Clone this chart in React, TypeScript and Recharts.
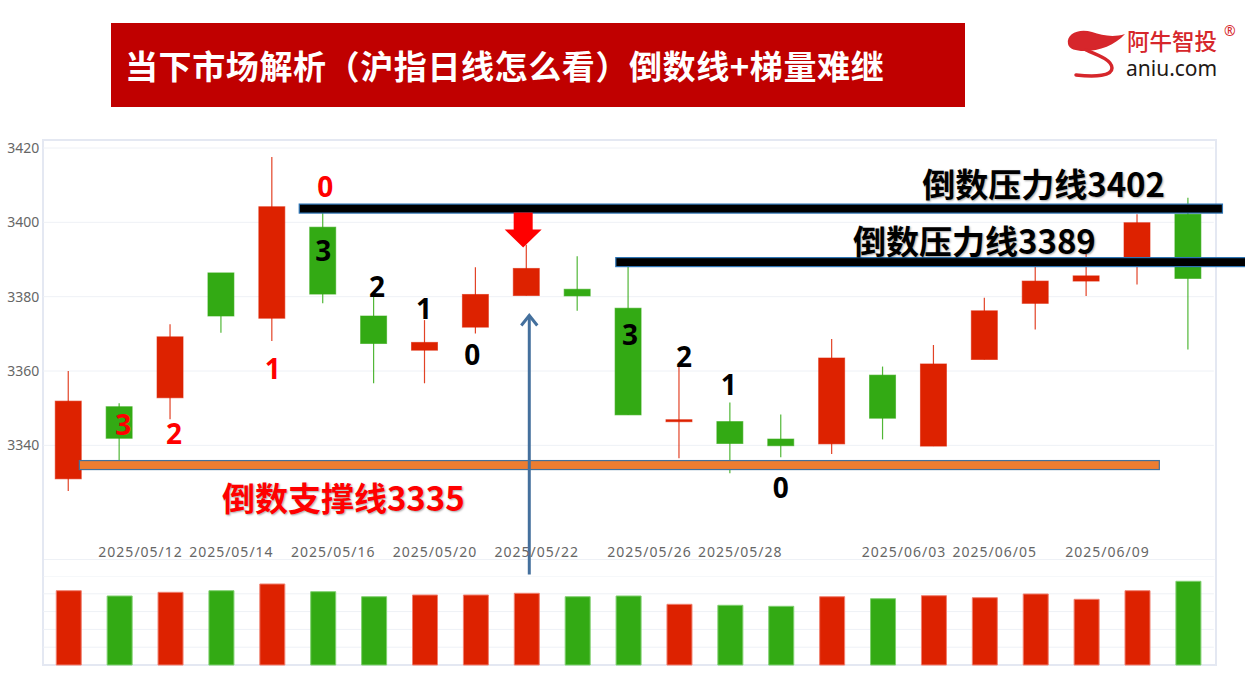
import React from 'react';
import {
  ComposedChart,
  BarChart,
  Bar,
  Cell,
  XAxis,
  YAxis,
  CartesianGrid,
  ReferenceLine,
  ReferenceDot,
} from 'recharts';

// 沪指日线 2025/05/09 - 2025/06/11
const dates = [
  '2025/05/09', '2025/05/12', '2025/05/13', '2025/05/14', '2025/05/15', '2025/05/16',
  '2025/05/19', '2025/05/20', '2025/05/21', '2025/05/22', '2025/05/23', '2025/05/26',
  '2025/05/27', '2025/05/28', '2025/05/29', '2025/05/30', '2025/06/03', '2025/06/04',
  '2025/06/05', '2025/06/06', '2025/06/09', '2025/06/10', '2025/06/11',
];
const opens = [
  3331.0, 3350.4, 3352.8, 3386.4, 3374.2, 3398.7, 3374.8, 3365.6, 3371.8, 3380.3, 3382.0, 3376.9,
  3346.4, 3346.4, 3341.7, 3340.4, 3358.9, 3339.8, 3363.1, 3378.2, 3384.2, 3388.8, 3402.2,
];
const highs = [
  3360.0, 3351.3, 3372.6, 3386.4, 3417.6, 3403.0, 3381.0, 3373.7, 3387.9, 3394.0, 3390.9, 3388.3,
  3361.6, 3351.5, 3348.3, 3368.6, 3361.2, 3367.0, 3379.7, 3388.3, 3391.5, 3402.2, 3406.6,
];
const lows = [
  3327.7, 3334.5, 3347.0, 3370.3, 3368.1, 3378.2, 3356.7, 3356.7, 3370.1, 3380.3, 3376.2, 3348.2,
  3336.5, 3332.5, 3336.8, 3337.7, 3341.6, 3339.8, 3363.1, 3371.2, 3380.2, 3383.3, 3365.8,
];
const closes = [
  3351.9, 3341.9, 3369.2, 3374.8, 3404.2, 3380.7, 3367.4, 3367.7, 3380.6, 3387.6, 3380.2, 3348.2,
  3346.9, 3340.5, 3339.9, 3363.5, 3347.3, 3361.9, 3376.2, 3384.2, 3385.6, 3399.9, 3384.9,
];
const volumes = [
  5009, 4652, 4901, 5009, 5461, 4942, 4604, 4719, 4719, 4834, 4604, 4652,
  4092, 4025, 3957, 4604, 4470, 4672, 4537, 4787, 4429, 5009, 5643,
];
const labeledDates = [
  '2025/05/12', '2025/05/14', '2025/05/16', '2025/05/20', '2025/05/22',
  '2025/05/26', '2025/05/28', '2025/06/03', '2025/06/05', '2025/06/09',
];
const priceTicks = [3340, 3360, 3380, 3400, 3420];
const volumeTicks = [1200, 2400, 3600, 4800, 6000];

// 倒数线 (level, from index, to index)
const levels = [
  { value: 3403.7, from: 4.53, to: 22.67, kind: 'resist' },
  { value: 3389.3, from: 10.75, to: 23.3, kind: 'resist' },
  { value: 3334.7, from: 0.21, to: 21.43, kind: 'support' },
];
const levelTexts = [
  { i: 16.77, v: 3406.9, text: '倒数压力线3402', color: '#000000' },
  { i: 15.41, v: 3391.5, text: '倒数压力线3389', color: '#000000' },
  { i: 3.01, v: 3322.3, text: '倒数支撑线3335', color: '#FF0000' },
];
const countMarks = [
  { i: 1.07, v: 3345.7, text: '3', color: '#FF0000' },
  { i: 2.07, v: 3343.3, text: '2', color: '#FF0000' },
  { i: 4.01, v: 3360.8, text: '1', color: '#FF0000' },
  { i: 5.04, v: 3409.8, text: '0', color: '#FF0000' },
  { i: 5.0, v: 3392.5, text: '3', color: '#000000' },
  { i: 6.06, v: 3382.9, text: '2', color: '#000000' },
  { i: 6.98, v: 3376.9, text: '1', color: '#000000' },
  { i: 7.93, v: 3364.6, text: '0', color: '#000000' },
  { i: 11.03, v: 3369.9, text: '3', color: '#000000' },
  { i: 12.09, v: 3364.0, text: '2', color: '#000000' },
  { i: 12.97, v: 3356.5, text: '1', color: '#000000' },
  { i: 13.99, v: 3328.8, text: '0', color: '#000000' },
];

const RED = '#DD2200';
const GREEN = '#33AA14';
const GRID = '#EEF1F6';
const CJK = '"Noto Sans CJK SC", "Noto Sans", sans-serif';
const SANS = '"Noto Sans", "DejaVu Sans", sans-serif';

const candles = dates.map((d, idx) => ({
  idx,
  date: d,
  open: opens[idx],
  high: highs[idx],
  low: lows[idx],
  close: closes[idx],
  volume: volumes[idx],
  up: closes[idx] >= opens[idx],
}));

const toDay = (s: string) => {
  const [y, m, d] = s.split('/').map(Number);
  return new Date(y, m - 1, d).getTime() / 86400000;
};
const tickIdx = labeledDates.map((d) => dates.indexOf(d));

const Candle = (props: any) => {
  const { x, y, width, height, payload } = props;
  const top = Math.min(y, y + height);
  const h = Math.abs(height);
  const { open, close, high, low, up } = payload;
  const color = up ? RED : GREEN;
  const ppu = h / (high - low);
  const bodyTop = top + (high - Math.max(open, close)) * ppu;
  const bodyH = Math.max(2, Math.abs(open - close) * ppu);
  const cx = x + width / 2;
  return (
    <g>
      <line x1={cx} x2={cx} y1={top} y2={top + h} stroke={color} strokeWidth={1.2} strokeOpacity={0.85} />
      <rect x={x} y={bodyTop} width={width} height={bodyH} fill={color} stroke={color} strokeOpacity={0.6} />
    </g>
  );
};

const DateTick = (props: any) => {
  const { x, y, payload } = props;
  const i = payload.value;
  const gap = i > 0 && toDay(dates[i]) - toDay(dates[i - 1]) > 1;
  return (
    <text
      x={x + (gap ? 21 : 10)}
      y={y + 37}
      textAnchor="middle"
      fontFamily={SANS}
      fontSize={14}
      letterSpacing={1}
      fill="#666"
    >
      {dates[i]}
    </text>
  );
};

const LevelBar = (kind: string) => (p: any) => (
  <rect
    x={p.x1}
    y={p.y1 - 4.5}
    width={p.x2 - p.x1}
    height={9}
    fill={kind === 'support' ? '#ED7D31' : '#000000'}
    stroke={kind === 'support' ? '#41719C' : '#2E75B6'}
    strokeWidth={1.2}
  />
);

// grid lines only at the given values, through the axis scale
const gridAt = (values: number[]) => (args: any) => {
  const scale = args?.yAxis?.scale;
  if (!scale) return [];
  return values.map((t) => (typeof scale === 'function' ? scale(t) : scale.map(t)));
};

const Logo = () => (
  <div style={{ position: 'absolute', left: 1060, top: 20, width: 185, height: 70 }}>
    <svg width={185} height={70} style={{ position: 'absolute', left: 0, top: 0 }}>
      <path
        d="M8,24 C6,13 20,8 32,12 C42,15 52,18 65,14 C55,25 40,31 24,31 C16,31 9,29 8,24 Z"
        fill="#D6262B"
      />
      <path
        d="M26,30 C38,35 52,40 52,48 C52,56 36,57 16,55"
        fill="none"
        stroke="#D6262B"
        strokeWidth={3.5}
        strokeLinecap="round"
      />
    </svg>
    <div
      style={{
        position: 'absolute',
        left: 67,
        top: 8,
        fontFamily: CJK,
        fontSize: 22.5,
        fontWeight: 500,
        color: '#D6262B',
        lineHeight: '24px',
        whiteSpace: 'nowrap',
      }}
    >
      阿牛智投
    </div>
    <div style={{ position: 'absolute', left: 164, top: 3, fontFamily: SANS, fontSize: 14, color: '#D6262B', lineHeight: '16px' }}>®</div>
    <div
      style={{
        position: 'absolute',
        left: 66,
        top: 37,
        fontFamily: SANS,
        fontSize: 21,
        color: '#231815',
        lineHeight: '22px',
      }}
    >
      aniu.com
    </div>
  </div>
);

export default function App() {
  return (
    <div style={{ position: 'absolute', left: 0, top: 0, width: 1245, height: 679, overflow: 'hidden', background: '#fff' }}>
      {/* frame */}
      <div
        style={{
          position: 'absolute',
          left: 42,
          top: 139,
          width: 1175,
          height: 527,
          border: '2px solid #E4E8F2',
          boxSizing: 'border-box',
        }}
      />
      <div style={{ position: 'absolute', left: 44, top: 559, width: 1171, height: 1, background: GRID }} />

      {/* volume */}
      <div style={{ position: 'absolute', left: 0, top: 576 }}>
        <BarChart width={1245} height={103} data={candles} margin={{ top: 0, right: 31.2, bottom: 14, left: 43.25 }}>
          <CartesianGrid vertical={false} stroke={GRID} horizontalCoordinatesGenerator={gridAt(volumeTicks)} />
          <XAxis dataKey="date" hide />
          <YAxis width={0} domain={[0, 6000]} ticks={volumeTicks} tick={false} axisLine={false} tickLine={false} />
          <Bar dataKey="volume" barSize={25} isAnimationActive={false}>
            {candles.map((c) => (
              <Cell key={c.idx} fill={c.up ? RED : GREEN} stroke={c.up ? '#F08070' : '#80D070'} strokeWidth={1} />
            ))}
          </Bar>
        </BarChart>
      </div>

      {/* price */}
      <div style={{ position: 'absolute', left: 0, top: 0 }}>
        <ComposedChart width={1245} height={600} data={candles} margin={{ top: 148, right: 31.2, bottom: 50.3, left: 0 }}>
          <CartesianGrid vertical={false} stroke={GRID} horizontalCoordinatesGenerator={gridAt(priceTicks)} />
          <XAxis
            dataKey="idx"
            type="number"
            domain={[-0.5, 22.5]}
            ticks={tickIdx}
            interval={0}
            tick={<DateTick />}
            axisLine={false}
            tickLine={false}
            tickSize={0}
            tickMargin={0}
            height={30}
          />
          <YAxis
            domain={[3320, 3420]}
            ticks={priceTicks}
            width={43.25}
            axisLine={false}
            tickLine={false}
            tickSize={0}
            tickMargin={4}
            tick={{ fill: '#666', fontSize: 14, fontFamily: SANS }}
          />
          <Bar dataKey={(d: any) => [d.low, d.high]} barSize={26} shape={<Candle />} isAnimationActive={false} />

          {levels.map((l, k) => (
            <ReferenceLine
              key={k}
              segment={[
                { x: l.from, y: l.value },
                { x: l.to, y: l.value },
              ]}
              ifOverflow="visible"
              shape={LevelBar(l.kind)}
            />
          ))}

          {levelTexts.map((t, k) => (
            <ReferenceDot
              key={'t' + k}
              x={t.i}
              y={t.v}
              ifOverflow="visible"
              shape={(p: any) => (
                <text
                  x={p.cx}
                  y={p.cy}
                  fontFamily={CJK}
                  fontWeight={700}
                  fontSize={33}
                  fill={t.color}
                  style={{ textShadow: '1px 1px 2px rgba(0,0,0,0.35)' }}
                >
                  {t.text}
                </text>
              )}
            />
          ))}

          {countMarks.map((m, k) => (
            <ReferenceDot
              key={'m' + k}
              x={m.i}
              y={m.v}
              ifOverflow="visible"
              shape={(p: any) => (
                <text
                  x={p.cx}
                  y={p.cy}
                  textAnchor="middle"
                  dominantBaseline="central"
                  fontFamily={SANS}
                  fontWeight={700}
                  fontSize={28}
                  fill={m.color}
                >
                  {m.text}
                </text>
              )}
            />
          ))}

          {/* red arrow pointing at 5/22 high */}
          <ReferenceDot
            x={8.93}
            y={3393.2}
            ifOverflow="visible"
            shape={(p: any) => (
              <path
                d={`M${p.cx - 9.5},${p.cy - 35} L${p.cx + 9.5},${p.cy - 35} L${p.cx + 9.5},${p.cy - 18} L${p.cx + 18.5},${p.cy - 18} L${p.cx},${p.cy} L${p.cx - 18.5},${p.cy - 18} L${p.cx - 9.5},${p.cy - 18} Z`}
                fill="#FF0000"
              />
            )}
          />
          {/* blue arrow from volume up to 5/22 candle */}
          <ReferenceDot
            x={9.05}
            y={3375.2}
            ifOverflow="visible"
            shape={(p: any) => (
              <g stroke="#44709D" strokeWidth={3} fill="none">
                <line x1={p.cx} y1={p.cy + 1} x2={p.cx} y2={p.cy + 260} />
                <polyline points={`${p.cx - 8},${p.cy + 11} ${p.cx},${p.cy + 1} ${p.cx + 8},${p.cy + 11}`} strokeLinejoin="miter" />
              </g>
            )}
          />
        </ComposedChart>
      </div>

      {/* title */}
      <div
        style={{
          position: 'absolute',
          left: 111,
          top: 23,
          width: 854,
          height: 84,
          background: '#C00000',
          display: 'flex',
          alignItems: 'center',
          paddingLeft: 14,
          boxSizing: 'border-box',
          fontFamily: CJK,
          fontWeight: 700,
          fontSize: 33,
          letterSpacing: 0.6,
          color: '#fff',
          whiteSpace: 'nowrap',
        }}
      >
        当下市场解析（沪指日线怎么看）倒数线+梯量难继
      </div>
      <Logo />
    </div>
  );
}
